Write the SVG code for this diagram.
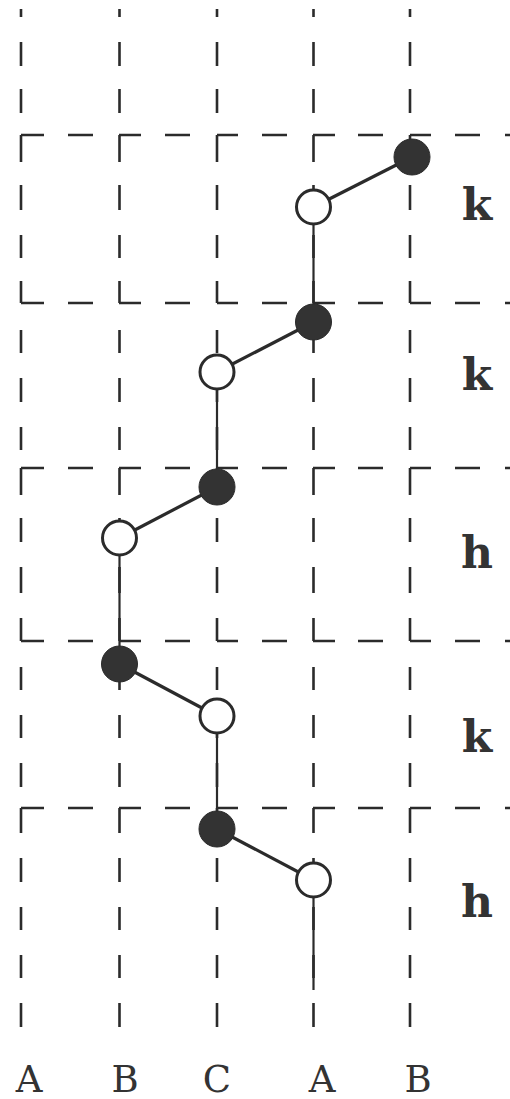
<svg xmlns="http://www.w3.org/2000/svg" xmlns:xlink="http://www.w3.org/1999/xlink" width="510" height="1099" viewBox="0 0 510 1099">
<style>
.grid{fill:none;stroke:#2b2b2b;stroke-width:2.6}
.edge{fill:none;stroke:#2b2b2b}
.slant{stroke-width:3.2}
.vert{stroke-width:2.2}
.filled{fill:#333;stroke:#2b2b2b;stroke-width:1}
.open{fill:#fff;stroke:#2b2b2b;stroke-width:3}
.band{font-family:"DejaVu Serif","Liberation Serif",serif;font-weight:bold;font-size:44px;fill:#333;text-anchor:middle}
.col{font-family:"DejaVu Serif","Liberation Serif",serif;font-size:37px;fill:#333;text-anchor:middle}
</style>
<defs>
<path id="vdash" d="M0 9V17M0 42V66M0 89V113M0 135V162M0 185V210M0 235V258M0 281V303M0 330V353M0 378V402M0 427V450M0 468V495M0 518V542M0 567V593M0 618V641M0 667V690M0 715V738M0 763V787M0 808V833M0 858V882M0 907V930M0 955V978M0 1003V1027"/>
<path id="hdash" d="M21 0H44M68 0H93M119 0H141M165 0H190M217 0H238M262 0H287M313 0H335M358 0H383M410 0H431M455 0H480M505 0H510"/>
</defs>
<g id="grid" class="grid">
<use xlink:href="#vdash" href="#vdash" x="21"/>
<use xlink:href="#vdash" href="#vdash" x="119.5"/>
<use xlink:href="#vdash" href="#vdash" x="217"/>
<use xlink:href="#vdash" href="#vdash" x="313.5"/>
<use xlink:href="#vdash" href="#vdash" x="410"/>
<use xlink:href="#hdash" href="#hdash" y="135"/>
<use xlink:href="#hdash" href="#hdash" y="303"/>
<use xlink:href="#hdash" href="#hdash" y="468"/>
<use xlink:href="#hdash" href="#hdash" y="641"/>
<use xlink:href="#hdash" href="#hdash" y="808"/>
</g>
<g id="connectors" class="edge">
<line class="slant" x1="313.5" y1="207" x2="412" y2="157"/>
<line class="vert" x1="313.5" y1="207" x2="313.5" y2="322"/>
<line class="slant" x1="313.5" y1="322" x2="217" y2="372"/>
<line class="vert" x1="217" y1="372" x2="217" y2="487"/>
<line class="slant" x1="217" y1="487" x2="119.5" y2="538"/>
<line class="vert" x1="119.5" y1="538" x2="119.5" y2="664"/>
<line class="slant" x1="119.5" y1="664" x2="217" y2="716"/>
<line class="vert" x1="217" y1="716" x2="217" y2="829"/>
<line class="slant" x1="217" y1="829" x2="313.5" y2="880"/>
<line class="vert" x1="313.5" y1="880" x2="313.5" y2="990"/>
</g>
<g id="n1"><circle class="filled" cx="412" cy="157" r="18"/></g>
<g id="n2"><circle class="open" cx="313.5" cy="207" r="17"/></g>
<g id="n3"><circle class="filled" cx="313.5" cy="322" r="18"/></g>
<g id="n4"><circle class="open" cx="217" cy="372" r="17"/></g>
<g id="n5"><circle class="filled" cx="217" cy="487" r="18"/></g>
<g id="n6"><circle class="open" cx="119.5" cy="538" r="17"/></g>
<g id="n7"><circle class="filled" cx="119.5" cy="664" r="18"/></g>
<g id="n8"><circle class="open" cx="217" cy="716" r="17"/></g>
<g id="n9"><circle class="filled" cx="217" cy="829" r="18"/></g>
<g id="n10"><circle class="open" cx="313.5" cy="880" r="17"/></g>
<g id="band-labels">
<text class="band" x="477" y="220">k</text>
<text class="band" x="477" y="390">k</text>
<text class="band" x="477" y="568">h</text>
<text class="band" x="477" y="752">k</text>
<text class="band" x="477" y="917">h</text>
</g>
<g id="column-labels">
<text class="col" x="29" y="1092">A</text>
<text class="col" x="125" y="1092">B</text>
<text class="col" x="217" y="1092">C</text>
<text class="col" x="322" y="1092">A</text>
<text class="col" x="418" y="1092">B</text>
</g>
</svg>
